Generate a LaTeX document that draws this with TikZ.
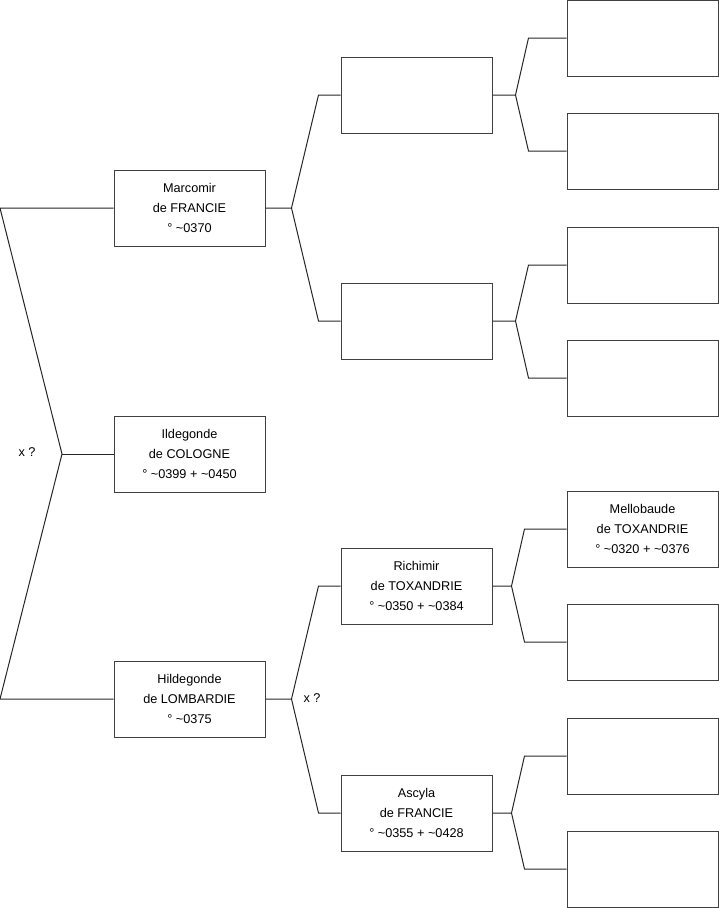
\documentclass[tikz,border=0pt]{standalone}
\usepackage{fontspec}
\setmainfont{Liberation Sans}
\begin{document}
\begin{tikzpicture}[x=1pt,y=-1pt,
  person/.style={draw=black!75,line width=1pt,minimum width=151pt,minimum height=76pt,
    inner sep=0pt,align=center,font=\fontsize{12.7}{20.3}\selectfont},
  link/.style={draw=black!85,line width=1pt},
  lbl/.style={font=\fontsize{12.7}{14}\selectfont,inner sep=0pt}]
\useasboundingbox (0,0) rectangle (719,908);
% level 1
\node[person] (m) at (189.5,208) {Marcomir\\de FRANCIE\\° \textasciitilde0370};
\node[person] (i) at (189.5,454) {Ildegonde\\de COLOGNE\\° \textasciitilde0399 + \textasciitilde0450};
\node[person] (h) at (189.5,699) {Hildegonde\\de LOMBARDIE\\° \textasciitilde0375};
% level 2
\node[person] (b1) at (416.5,95) {};
\node[person] (b2) at (416.5,321) {};
\node[person] (b3) at (416.5,586) {Richimir\\de TOXANDRIE\\° \textasciitilde0350 + \textasciitilde0384};
\node[person] (b4) at (416.5,813) {Ascyla\\de FRANCIE\\° \textasciitilde0355 + \textasciitilde0428};
% level 3
\node[person] (c1) at (642.5,38) {};
\node[person] (c2) at (642.5,151) {};
\node[person] (c3) at (642.5,265) {};
\node[person] (c4) at (642.5,378) {};
\node[person] (c5) at (642.5,529) {Mellobaude\\de TOXANDRIE\\° \textasciitilde0320 + \textasciitilde0376};
\node[person] (c6) at (642.5,642) {};
\node[person] (c7) at (642.5,756) {};
\node[person] (c8) at (642.5,869) {};
% left fork
\coordinate (L) at (62,454);
\draw[link] (m.west) -- ([xshift=-113.5pt]m.west) -- (L) -- ([xshift=-113.5pt]h.west) -- (h.west);
\draw[link] (L) -- (i.west);
\node[lbl] (x1) at (27,452) {x ?};
% level 2 forks
\draw[link] (m.east) -- ++(26,0) coordinate (fm) -- ([xshift=-22pt]b1.west) -- (b1.west);
\draw[link] (fm) -- ([xshift=-22pt]b2.west) -- (b2.west);
\draw[link] (h.east) -- ++(26,0) coordinate (fh) -- ([xshift=-22pt]b3.west) -- (b3.west);
\draw[link] (fh) -- ([xshift=-22pt]b4.west) -- (b4.west);
\node[lbl] (x2) at (312,698) {x ?};
% level 3 forks
\draw[link] (b1.east) -- ++(23,0) coordinate (f1) -- ([xshift=-38pt]c1.west) -- (c1.west);
\draw[link] (f1) -- ([xshift=-38pt]c2.west) -- (c2.west);
\draw[link] (b2.east) -- ++(23,0) coordinate (f2) -- ([xshift=-38pt]c3.west) -- (c3.west);
\draw[link] (f2) -- ([xshift=-38pt]c4.west) -- (c4.west);
\draw[link] (b3.east) -- ++(19,0) coordinate (f3) -- ([xshift=-42pt]c5.west) -- (c5.west);
\draw[link] (f3) -- ([xshift=-42pt]c6.west) -- (c6.west);
\draw[link] (b4.east) -- ++(19,0) coordinate (f4) -- ([xshift=-42pt]c7.west) -- (c7.west);
\draw[link] (f4) -- ([xshift=-42pt]c8.west) -- (c8.west);
\end{tikzpicture}
\end{document}
